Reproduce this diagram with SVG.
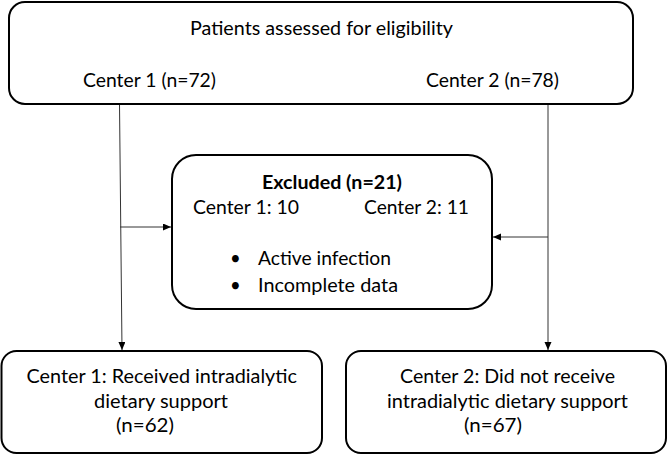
<svg xmlns="http://www.w3.org/2000/svg" width="669" height="455" viewBox="0 0 669 455">
<defs>
<style>
.box{fill:#fff;stroke:#000;stroke-width:2}
.t{font-family:Lato,"Liberation Sans",sans-serif;font-size:18.5px;fill:#000}
.b{font-weight:bold}
.c{stroke:#333;stroke-width:1;fill:none}
</style>
<marker id="ah" markerUnits="userSpaceOnUse" markerWidth="9" markerHeight="8" refX="8" refY="3.5" orient="auto">
<path d="M0,0 L8,3.5 L0,7 z" fill="#000"/>
</marker>
</defs>
<rect width="669" height="455" fill="#fff"/>
<g id="connectors">
<line class="c" x1="119.5" y1="104" x2="122" y2="350" marker-end="url(#ah)"/>
<line class="c" x1="548" y1="104" x2="548" y2="350" marker-end="url(#ah)"/>
<line class="c" x1="120" y1="227" x2="171" y2="227" marker-end="url(#ah)"/>
<line class="c" x1="548" y1="237" x2="493" y2="237" marker-end="url(#ah)"/>
</g>
<g id="assessed">
<rect class="box" x="9" y="2" width="624" height="102" rx="16"/>
<text class="t" x="190" y="35" textLength="263" lengthAdjust="spacingAndGlyphs">Patients assessed for eligibility</text>
<text class="t" x="83" y="87" textLength="133" lengthAdjust="spacingAndGlyphs">Center 1 (n=72)</text>
<text class="t" x="426" y="87" textLength="133" lengthAdjust="spacingAndGlyphs">Center 2 (n=78)</text>
</g>
<g id="excluded">
<rect class="box" x="172" y="155" width="320" height="154" rx="24"/>
<text class="t b" x="262" y="189" textLength="140" lengthAdjust="spacingAndGlyphs">Excluded (n=21)</text>
<text class="t" x="193" y="214" textLength="106" lengthAdjust="spacingAndGlyphs">Center 1: 10</text>
<text class="t" x="364" y="214" textLength="105" lengthAdjust="spacingAndGlyphs">Center 2: 11</text>
<text class="t" x="230" y="265">•</text>
<text class="t" x="258" y="265" textLength="133" lengthAdjust="spacingAndGlyphs">Active infection</text>
<text class="t" x="230" y="292">•</text>
<text class="t" x="258" y="292" textLength="140" lengthAdjust="spacingAndGlyphs">Incomplete data</text>
</g>
<g id="center1">
<rect class="box" x="1.5" y="351" width="320.5" height="102" rx="15"/>
<text class="t" x="26.5" y="383" textLength="270.5" lengthAdjust="spacingAndGlyphs">Center 1: Received intradialytic</text>
<text class="t" x="94" y="408" textLength="134" lengthAdjust="spacingAndGlyphs">dietary support</text>
<text class="t" x="116" y="432" textLength="58" lengthAdjust="spacingAndGlyphs">(n=62)</text>
</g>
<g id="center2">
<rect class="box" x="346" y="351" width="320" height="102" rx="15"/>
<text class="t" x="400" y="383" textLength="215" lengthAdjust="spacingAndGlyphs">Center 2: Did not receive</text>
<text class="t" x="387" y="408" textLength="241" lengthAdjust="spacingAndGlyphs">intradialytic dietary support</text>
<text class="t" x="464" y="432" textLength="58" lengthAdjust="spacingAndGlyphs">(n=67)</text>
</g>
</svg>
